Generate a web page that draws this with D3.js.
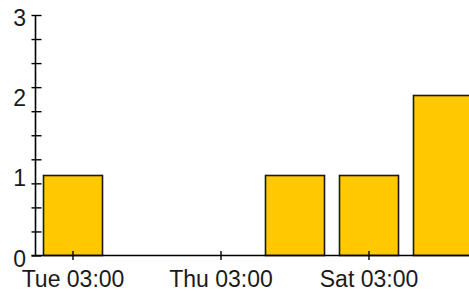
<!DOCTYPE html>
<html>
<head>
<meta charset="utf-8">
<script src="https://cdn.jsdelivr.net/npm/d3@7"></script>
<style>
  html, body { margin: 0; padding: 0; background: #fff; }
  svg { display: block; }
  text { font-family: "Liberation Sans", Arial, sans-serif; font-size: 23px; fill: #1a1a1a; }
</style>
</head>
<body>
<svg id="chart" width="469" height="292"></svg>
<script>
// ---- data ----
const barDates  = ["2024-01-02T03:00:00Z","2024-01-03T03:00:00Z","2024-01-04T03:00:00Z","2024-01-05T03:00:00Z","2024-01-06T03:00:00Z","2024-01-07T03:00:00Z"];
const barValues = [1, 0, 0, 1, 1, 2];
const xTickDates = ["2024-01-02T03:00:00Z","2024-01-04T03:00:00Z","2024-01-06T03:00:00Z"];
const xDomainDates = ["2024-01-01T15:00:00Z","2024-01-07T15:00:00Z"];
const yMinorTicks = [0, 0.3, 0.6, 0.9, 1.2, 1.5, 1.8, 2.1, 2.4, 2.7, 3.0];
const yLabelValues = [0, 1, 2, 3];

// ---- layout ----
const axisX = 35.5, axisY = 255.5, topY = 15, dayPx = 74;
const svg = d3.select("#chart");
const DAY = 864e5;

const x = d3.scaleUtc()
  .domain(xDomainDates.map(d => new Date(d)))
  .range([axisX, axisX + 6 * dayPx]);
const y = d3.scaleLinear().domain([0, 3]).range([axisY, topY]);

const bars = barDates.map((d, i) => ({ date: new Date(d), value: barValues[i] }));

// bars
svg.append("g").selectAll("rect")
  .data(bars.filter(b => b.value > 0))
  .join("rect")
  .attr("x", b => Math.round(x(new Date(+b.date - 0.4 * DAY))) + 0.5)
  .attr("width", b => Math.round(x(new Date(+b.date + 0.4 * DAY)) - x(new Date(+b.date - 0.4 * DAY))))
  .attr("y", b => Math.round(y(b.value)) + 0.5)
  .attr("height", b => axisY - Math.round(y(b.value)) - 0.5)
  .attr("fill", "#FFC800")
  .attr("stroke", "#1a1a1a")
  .attr("stroke-width", 1.6);

// x axis
const xAxis = d3.axisBottom(x)
  .tickValues(xTickDates.map(d => new Date(d)))
  .tickFormat(d3.utcFormat("%a %H:%M"))
  .tickSizeOuter(0);
const gx = svg.append("g").attr("transform", `translate(0,${axisY})`).call(xAxis);
gx.select(".domain").remove();
gx.attr("font-family", null).attr("font-size", null);
gx.append("line").attr("x1", axisX - 4).attr("x2", 469).attr("stroke", "#000").attr("stroke-width", 1.6);
gx.selectAll(".tick line").attr("y1", -4.5).attr("y2", 4.5).attr("stroke", "#000").attr("stroke-width", 1.4);
gx.selectAll(".tick text").attr("y", 31.5).attr("dy", 0).attr("fill", null);

// y axis (minor ticks crossing the line)
const yAxis = d3.axisLeft(y).tickValues(yMinorTicks).tickFormat("").tickSizeOuter(0);
const gy = svg.append("g").attr("transform", `translate(${axisX},0)`).call(yAxis);
gy.select(".domain").remove();
gy.attr("font-family", null).attr("font-size", null);
gy.append("line").attr("y1", topY).attr("y2", axisY).attr("stroke", "#000").attr("stroke-width", 1.6);
gy.selectAll(".tick line").attr("x1", -4).attr("x2", 6).attr("stroke", "#000").attr("stroke-width", 1.4);

// y labels
svg.append("g").selectAll("text")
  .data(yLabelValues)
  .join("text")
  .attr("x", axisX - 9.5)
  .attr("y", v => y(v) + 11)
  .attr("text-anchor", "end")
  .text(d3.format("d"));
</script>
</body>
</html>
